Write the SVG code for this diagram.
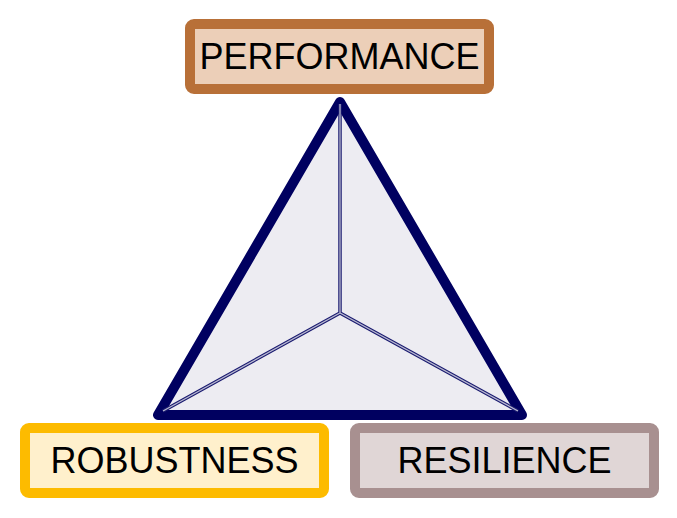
<svg xmlns="http://www.w3.org/2000/svg" width="677" height="518" viewBox="0 0 677 518">
<style>
text{font-family:"Liberation Sans",Arial,sans-serif;font-size:36px;fill:#000;text-anchor:middle}
.box{stroke-width:10}
.edgeO{stroke:#1a1a70;stroke-width:3.5;fill:none}
.edgeI{stroke:#b8b8d0;stroke-width:1.3;fill:none}
</style>
<rect width="677" height="518" fill="#fff"/>
<g id="connectors">
<polygon points="340,102 158,415 522,415" fill="#EDECF2" stroke="#000060" stroke-width="10" stroke-linejoin="round"/>
<path class="edgeO" d="M340,104 L340,313 M163,411 L340,313 L518,411"/>
<path class="edgeI" d="M340,104 L340,313 M163,411 L340,313 L518,411"/>
</g>
<g id="performance">
<rect class="box" x="190" y="24" width="299" height="65" rx="4" fill="#ECCFB8" stroke="#B87038"/>
<text x="339.5" y="69">PERFORMANCE</text>
</g>
<g id="robustness">
<rect class="box" x="25" y="428" width="299" height="65" rx="4" fill="#FFF0CC" stroke="#FDBB00"/>
<text x="174.5" y="473">ROBUSTNESS</text>
</g>
<g id="resilience">
<rect class="box" x="355" y="428" width="299" height="65" rx="4" fill="#E0D6D6" stroke="#A89090"/>
<text x="504.5" y="473">RESILIENCE</text>
</g>
</svg>
